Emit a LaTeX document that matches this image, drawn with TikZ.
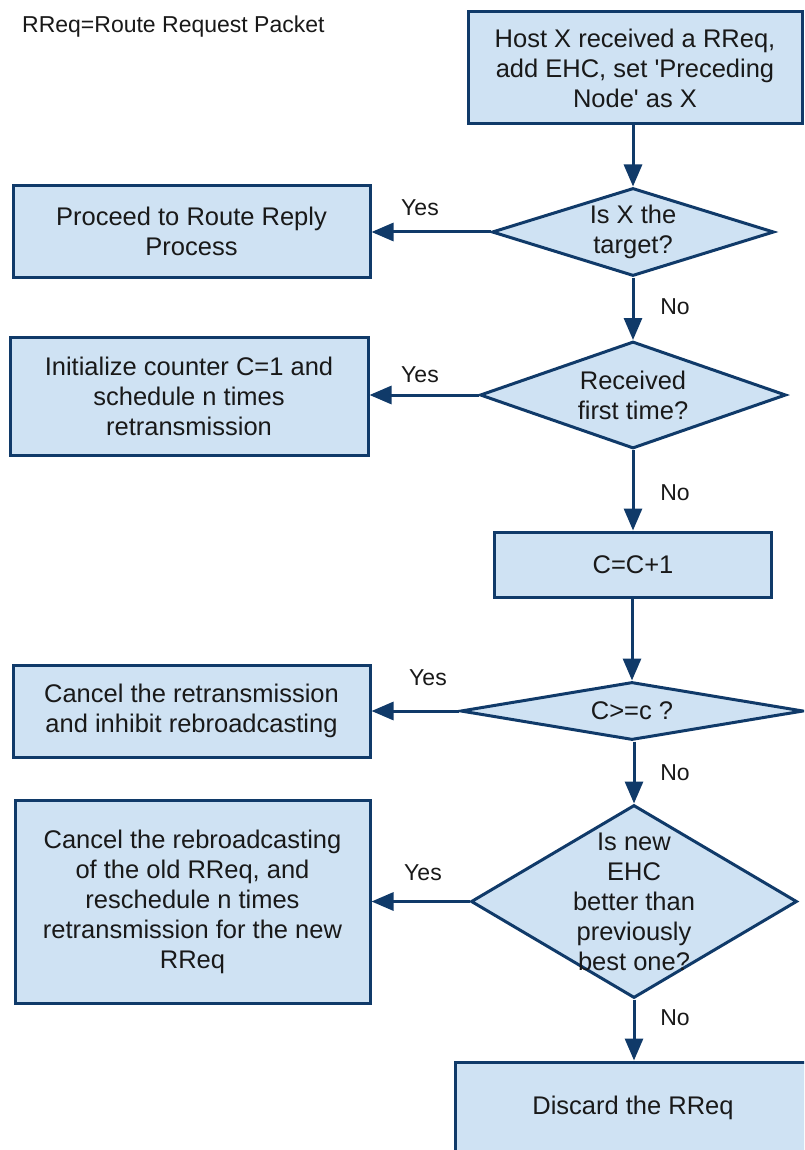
\documentclass[tikz,border=0pt]{standalone}
\usepackage{fontspec}
\setmainfont{Liberation Sans}[Ligatures=TeXOff]
\usetikzlibrary{shapes.geometric,arrows.meta}
\definecolor{boxfill}{RGB}{207,226,243}
\definecolor{boxline}{RGB}{16,58,105}
\definecolor{txt}{RGB}{25,25,25}
\tikzset{
  base/.style={draw=boxline, fill=boxfill, line width=3pt, inner sep=0pt},
  proc/.style={base, rectangle, align=center, text=txt, font=\fontsize{25.5}{30}\selectfont},
  decision/.style={base, diamond},
  dtext/.style={align=center, text=txt, inner sep=0pt, font=\fontsize{25.5}{30}\selectfont},
  lbl/.style={text=txt, inner sep=0pt, font=\fontsize{23}{28}\selectfont},
  arr/.style={draw=boxline, line width=3pt, -{Triangle[length=22pt,width=18pt]}}
}
\begin{document}
\begin{tikzpicture}[x=1pt,y=-1pt]
\useasboundingbox (0,0) rectangle (804,1150);
\fill[white] (0,0) rectangle (804,1150);
\clip (0,0) rectangle (804,1150);

\node[lbl, anchor=west] (legend) at (22,27) {RReq=Route Request Packet};

\node[proc, minimum width=334pt, minimum height=112pt] (start) at (635,68)
  {Host X received a RReq,\\add EHC, set 'Preceding\\Node' as X};

\node[decision, minimum width=282pt, minimum height=88pt] (d1) at (633,232) {};
\node[dtext] (d1t) at (d1.center) {Is X the\\target?};

\node[proc, minimum width=357pt, minimum height=91pt] (reply) at (191.5,231.5)
  {Proceed to Route Reply\\Process};

\node[decision, minimum width=306pt, minimum height=107pt] (d2) at (633,395) {};
\node[dtext] (d2t) at (d2.center) {Received\\first time?};

\node[proc, minimum width=358pt, minimum height=118pt] (init) at (189,396)
  {Initialize counter C=1 and\\schedule n times\\retransmission};

\node[proc, minimum width=277pt, minimum height=65pt] (inc) at (633,564.5) {C=C+1};

\node[decision, minimum width=343pt, minimum height=58pt] (d3) at (632,711) {};
\node[dtext] (d3t) at (d3.center) {C>=c ?};

\node[proc, minimum width=357pt, minimum height=92pt] (cancel) at (191.5,711)
  {Cancel the retransmission\\and inhibit rebroadcasting};

\node[decision, minimum width=326pt, minimum height=193pt] (d4) at (634,901.5) {};
\node[dtext] (d4t) at (d4.center) {Is new\\EHC\\better than\\previously\\best one?};

\node[proc, minimum width=355pt, minimum height=203pt] (resched) at (192.5,901.5)
  {Cancel the rebroadcasting\\of the old RReq, and\\reschedule n times\\retransmission for the new\\RReq};

\node[proc, minimum width=356pt, minimum height=92pt] (discard) at (633,1108)
  {Discard the RReq};

% connectors
\draw[arr] (start.south -| d1.north) -- (d1.north);
\draw[arr] (d1.west) -- (d1.west -| reply.east);
\draw[arr] (d1.south) -- (d2.north);
\draw[arr] (d2.west) -- (d2.west -| init.east);
\draw[arr] (d2.south) -- (inc.north -| d2.south);
\draw[arr] (inc.south -| d3.north) -- (d3.north);
\draw[arr] (d3.west) -- (d3.west -| cancel.east);
\draw[arr] (d3.south -| d4.north) -- (d4.north);
\draw[arr] (d4.west) -- (d4.west -| resched.east);
\draw[arr] (d4.south) -- (discard.north -| d4.south);

% labels
\node[lbl] (y1) at (420,208) {Yes};
\node[lbl] (n1) at (675,307) {No};
\node[lbl] (y2) at (420,375) {Yes};
\node[lbl] (n2) at (675,493) {No};
\node[lbl] (y3) at (428,678) {Yes};
\node[lbl] (n3) at (675,773) {No};
\node[lbl] (y4) at (423,873) {Yes};
\node[lbl] (n4) at (675,1018) {No};
\end{tikzpicture}
\end{document}
